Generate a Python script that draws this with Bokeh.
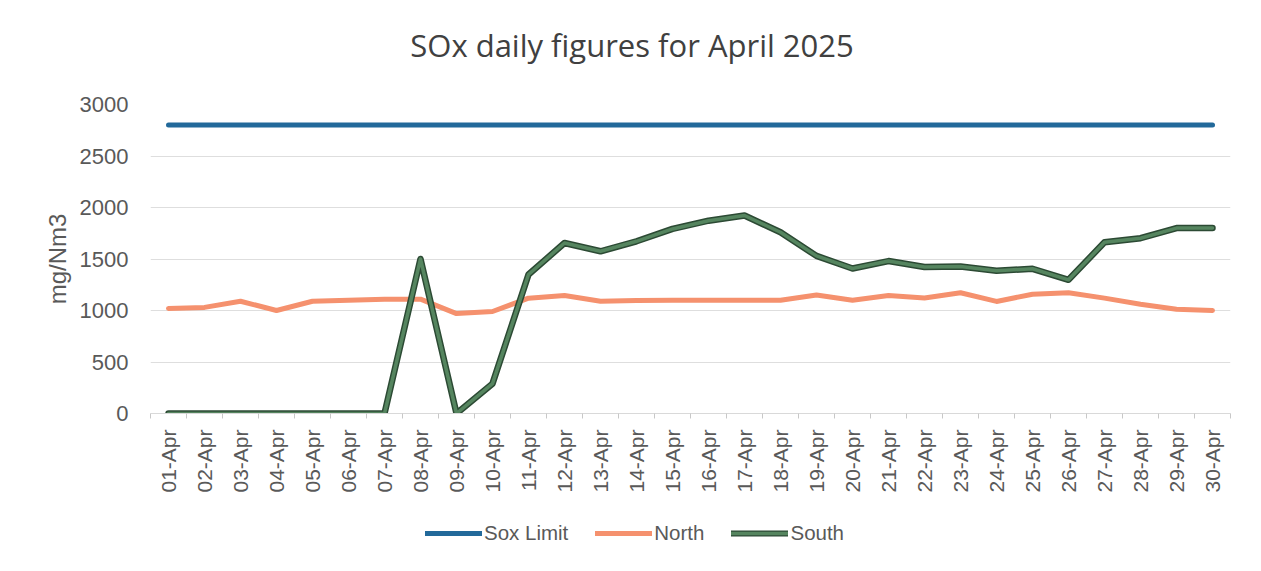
import math
from bokeh.plotting import figure
from bokeh.layouts import column
from bokeh.models import (Range1d, FixedTicker, Legend, LegendItem, ColumnDataSource, Label)
from bokeh.embed import file_html
from bokeh.resources import INLINE

title_text = "SOx daily figures for April 2025"
days = ["01-Apr", "02-Apr", "03-Apr", "04-Apr", "05-Apr", "06-Apr", "07-Apr", "08-Apr",
        "09-Apr", "10-Apr", "11-Apr", "12-Apr", "13-Apr", "14-Apr", "15-Apr", "16-Apr",
        "17-Apr", "18-Apr", "19-Apr", "20-Apr", "21-Apr", "22-Apr", "23-Apr", "24-Apr",
        "25-Apr", "26-Apr", "27-Apr", "28-Apr", "29-Apr", "30-Apr"]
sox_limit = [2800] * 30
north = [1020, 1030, 1090, 1000, 1090, 1100, 1110, 1110, 970, 990,
         1120, 1146, 1090, 1097, 1100, 1100, 1100, 1100, 1150, 1100,
         1145, 1122, 1172, 1088, 1158, 1172, 1120, 1060, 1012, 1000]
south = [0, 0, 0, 0, 0, 0, 0, 1500, 0, 290,
         1350, 1655, 1575, 1672, 1792, 1872, 1922, 1760, 1530, 1408,
         1480, 1422, 1428, 1385, 1405, 1298, 1662, 1702, 1800, 1800]
series_names = ["Sox Limit", "North", "South"]
y_ticks = [0, 500, 1000, 1500, 2000, 2500, 3000]

W = 1255
FL, FR = 150, 1230          # frame left / right (page px); frames are aligned in the column
C_LIMIT, C_NORTH, C_SOUTH_EDGE, C_SOUTH = "#22699a", "#f5916e", "#2c4a34", "#55855f"
GREY = "#595959"

xs = list(range(len(days)))
src = ColumnDataSource(data=dict(x=xs, limit=sox_limit, north=north, south=south))

# ---------- title strip ----------
TH = 90
t = figure(width=W, height=TH, output_backend="svg", toolbar_location=None,
           x_range=Range1d(FL, FR), y_range=Range1d(TH, 0),
           x_axis_type=None, y_axis_type=None, min_border=0,
           min_border_left=FL, min_border_right=W - FR)
t.outline_line_color = None
t.grid.grid_line_color = None
t.add_layout(Label(x=631.5, y=44, text=title_text, text_align="center",
                   text_baseline="alphabetic", text_font="Open Sans",
                   text_font_size="31px", text_color="#404040"))

# ---------- main chart ----------
MH = 420
p = figure(width=W, height=MH, output_backend="svg", toolbar_location=None,
           x_range=Range1d(-0.5, len(days) - 0.5), y_range=Range1d(0, 3000),
           min_border_left=FL, min_border_right=W - FR, min_border_top=104 - TH,
           min_border_bottom=MH - (413 - TH))
p.outline_line_color = None
p.background_fill_color = "white"
p.border_fill_color = "white"

xa = p.xaxis[0]
xa.ticker = FixedTicker(ticks=xs, minor_ticks=[i - 0.5 for i in range(len(days) + 1)])
xa.major_label_overrides = {i: d for i, d in enumerate(days)}
xa.major_label_orientation = math.pi / 2
xa.major_tick_line_color = None
xa.major_tick_out = 0
xa.major_tick_in = 0
xa.minor_tick_line_color = "#c8c8c8"
xa.minor_tick_out = 5
xa.minor_tick_in = 0
xa.axis_line_color = "#d9d9d9"
xa.major_label_text_font = "Liberation Sans"
xa.major_label_text_font_size = "21px"
xa.major_label_text_color = GREY
xa.major_label_standoff = 11

ya = p.yaxis[0]
ya.ticker = FixedTicker(ticks=y_ticks)
ya.axis_line_color = None
ya.major_tick_line_color = None
ya.major_tick_out = 0
ya.major_tick_in = 0
ya.minor_tick_line_color = None
ya.major_label_text_font = "Liberation Sans"
ya.major_label_text_font_size = "22px"
ya.major_label_text_color = GREY
ya.major_label_standoff = 22
ya.axis_label = "mg/Nm3"
ya.axis_label_text_font = "Liberation Sans"
ya.axis_label_text_font_size = "24px"
ya.axis_label_text_font_style = "normal"
ya.axis_label_text_color = GREY
ya.axis_label_standoff = 6

p.xgrid.grid_line_color = None
p.ygrid.grid_line_color = "#dedede"
p.ygrid.grid_line_width = 1

p.line("x", "limit", source=src, line_color=C_LIMIT, line_width=5,
       line_cap="round", line_join="round")
p.line("x", "north", source=src, line_color=C_NORTH, line_width=5,
       line_cap="round", line_join="round")
p.line("x", "south", source=src, line_color=C_SOUTH_EDGE, line_width=6.5,
       line_cap="round", line_join="round")
p.line("x", "south", source=src, line_color=C_SOUTH, line_width=3.5,
       line_cap="round", line_join="round")

# ---------- legend strip ----------
# the strip's view range lies far from the data, so its lines stay off-screen
# and only their legend swatches are seen
LH = 56
lg = figure(width=W, height=LH, output_backend="svg", toolbar_location=None,
            x_range=Range1d(1000, 1001), y_range=Range1d(0, 1),
            x_axis_type=None, y_axis_type=None, min_border=0,
            min_border_left=FL, min_border_right=W - FR)
lg.outline_line_color = None
lg.grid.grid_line_color = None
k_lim = lg.line("x", "limit", source=src, line_color=C_LIMIT, line_width=5, line_cap="round")
k_north = lg.line("x", "north", source=src, line_color=C_NORTH, line_width=5, line_cap="round")
k_south_e = lg.line("x", "south", source=src, line_color=C_SOUTH_EDGE, line_width=6,
                    line_cap="round")
k_south = lg.line("x", "south", source=src, line_color=C_SOUTH, line_width=3.5,
                  line_cap="round")

legend = Legend(items=[LegendItem(label=series_names[0], renderers=[k_lim]),
                       LegendItem(label=series_names[1], renderers=[k_north]),
                       LegendItem(label=series_names[2], renderers=[k_south_e, k_south])],
                orientation="horizontal", location=(425 - FL, 21),
                border_line_color=None, background_fill_alpha=0,
                label_text_font="Liberation Sans", label_text_font_size="20.5px",
                label_text_color=GREY, glyph_width=57, glyph_height=20,
                label_standoff=2, spacing=27, padding=0, margin=0)
lg.add_layout(legend)

layout = column(t, p, lg, spacing=0)
open("out.html", "w").write(file_html(layout, INLINE))
